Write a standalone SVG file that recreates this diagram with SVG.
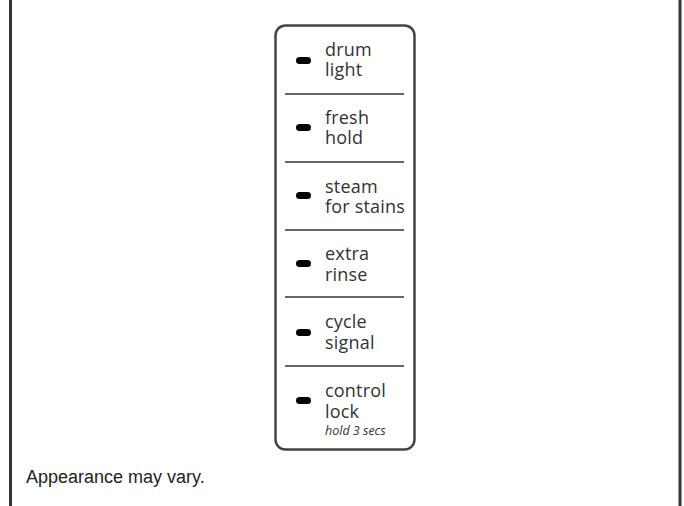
<svg xmlns="http://www.w3.org/2000/svg" width="684" height="506" viewBox="0 0 684 506">
<style>
.edge{stroke:#333;stroke-width:3;fill:none}
.panel{fill:#fff;stroke:#444;stroke-width:2.5}
.div{stroke:#333;stroke-width:1.3}
.led{fill:#000}
.lbl{font-family:"Open Sans","Noto Sans",sans-serif;font-size:18px;letter-spacing:0.2px;fill:#333}
.sub{font-family:"Open Sans","Noto Sans",sans-serif;font-size:12.5px;font-style:italic;letter-spacing:0;fill:#333}
.note{font-family:"Liberation Sans",Arial,sans-serif;font-size:18px;fill:#222}
</style>
<rect width="684" height="506" fill="#fff"/>
<line class="edge" x1="10.5" y1="0" x2="10.5" y2="506"/>
<line class="edge" x1="680" y1="0" x2="680" y2="506"/>
<rect class="panel" x="275.5" y="25.5" width="139" height="424" rx="10"/>
<g id="connectors">
<line class="div" x1="285" y1="94" x2="404" y2="94"/>
<line class="div" x1="285" y1="162" x2="404" y2="162"/>
<line class="div" x1="285" y1="230" x2="404" y2="230"/>
<line class="div" x1="285" y1="297" x2="404" y2="297"/>
<line class="div" x1="285" y1="366" x2="404" y2="366"/>
</g>
<g id="drum-light"><rect class="led" x="296" y="57" width="15" height="7" rx="3.5"/><text class="lbl" x="325" y="56">drum<tspan x="325" y="76">light</tspan></text></g>
<g id="fresh-hold"><rect class="led" x="296" y="124" width="15" height="7" rx="3.5"/><text class="lbl" x="325" y="124">fresh<tspan x="325" y="144">hold</tspan></text></g>
<g id="steam"><rect class="led" x="296" y="192" width="15" height="7" rx="3.5"/><text class="lbl" x="325" y="193">steam<tspan x="325" y="213">for stains</tspan></text></g>
<g id="extra-rinse"><rect class="led" x="296" y="260" width="15" height="7" rx="3.5"/><text class="lbl" x="325" y="260">extra<tspan x="325" y="281">rinse</tspan></text></g>
<g id="cycle-signal"><rect class="led" x="296" y="329" width="15" height="7" rx="3.5"/><text class="lbl" x="325" y="328">cycle<tspan x="325" y="349">signal</tspan></text></g>
<g id="control-lock"><rect class="led" x="296" y="397" width="15" height="7" rx="3.5"/><text class="lbl" x="325" y="397">control<tspan x="325" y="418">lock</tspan><tspan class="sub" x="325" y="435">hold 3 secs</tspan></text></g>
<text class="note" x="26" y="483">Appearance may vary.</text>
</svg>
